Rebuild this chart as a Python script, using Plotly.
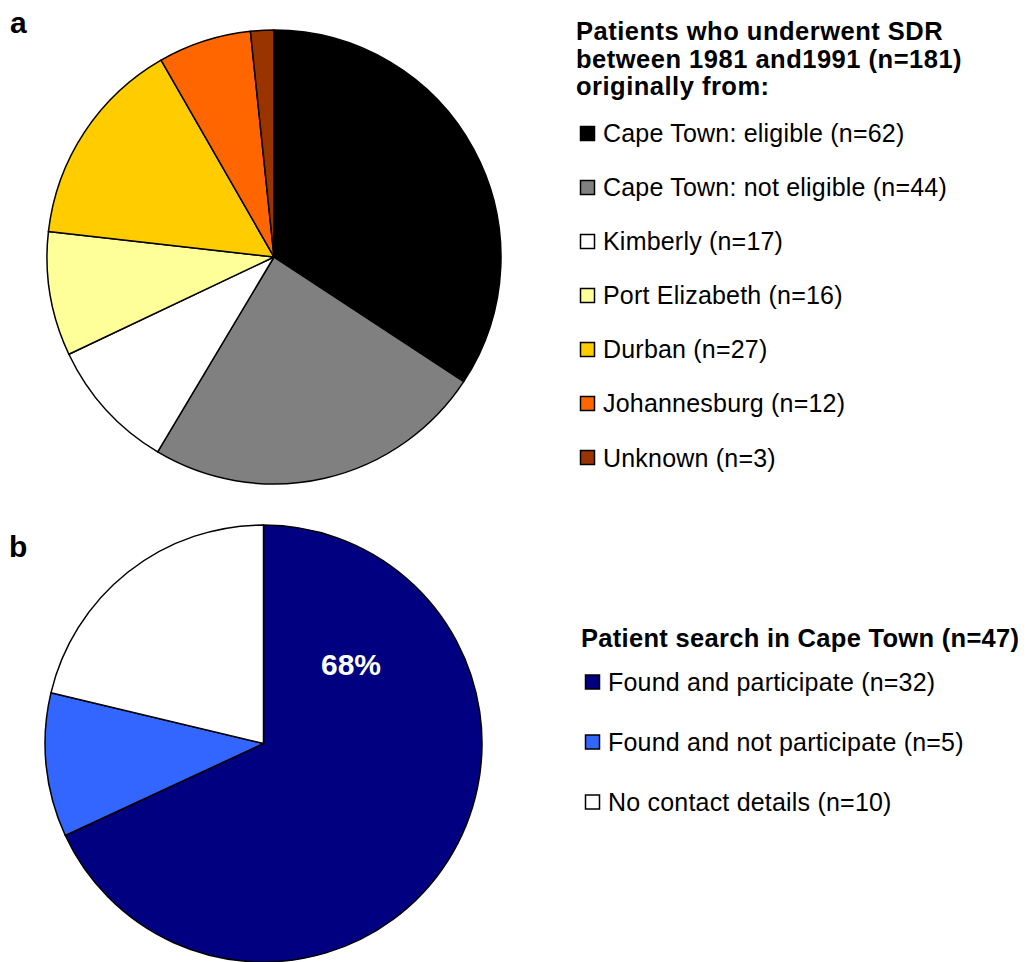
import plotly.graph_objects as go

# ---- data ----
origin_labels = ["Cape Town: eligible", "Cape Town: not eligible", "Kimberly",
                 "Port Elizabeth", "Durban", "Johannesburg", "Unknown"]
origin_counts = [62, 44, 17, 16, 27, 12, 3]
origin_colors = ["#000000", "#808080", "#FFFFFF", "#FFFF99", "#FFCC00", "#FF6600", "#993300"]

search_labels = ["Found and participate", "Found and not participate", "No contact details"]
search_counts = [32, 5, 10]
search_colors = ["#000080", "#3366FF", "#FFFFFF"]

title_a = ["Patients who underwent SDR", "between 1981 and1991 (n=181)", "originally from:"]
title_b = "Patient search in Cape Town (n=47)"

# page is 1031x962; the html body keeps its default 8px margin
OX, OY = 8, 8
W, H = 1031 - OX, 962 - OY
FONT = "Liberation Sans, Arial, sans-serif"


def fx(x):
    return (x - OX) / W


def fy(y):
    return 1 - (y - OY) / H


def spaced(t, ls):
    return '<span style="letter-spacing:%.2fpx">%s</span>' % (ls, t)


fig = go.Figure()

fig.add_trace(go.Pie(
    labels=origin_labels, values=origin_counts, sort=False, direction="clockwise",
    rotation=0, marker=dict(colors=origin_colors, line=dict(color="#000000", width=1.5)),
    textinfo="none", hoverinfo="label+value", showlegend=False,
    domain=dict(x=[fx(47), fx(501)], y=[fy(484), fy(30)]),
))

fig.add_trace(go.Pie(
    labels=search_labels, values=search_counts, sort=False, direction="clockwise",
    rotation=0, marker=dict(colors=search_colors, line=dict(color="#000000", width=1.5)),
    textinfo="none", hoverinfo="label+value", showlegend=False,
    domain=dict(x=[fx(43), fx(484)], y=[0, fy(525)]),
))

annotations = []
shapes = []

# panel letters
for letter, (lx, ly) in zip(["a", "b"], [(18, 22), (18, 546)]):
    annotations.append(dict(text="<b>%s</b>" % letter, x=fx(lx), y=fy(ly), xref="paper", yref="paper",
                            xanchor="center", yanchor="middle", showarrow=False,
                            font=dict(family=FONT, size=30, color="#000000")))

# legend a title (one annotation per line for tight line spacing)
for i, t in enumerate(title_a):
    annotations.append(dict(text=spaced("<b>%s</b>" % t, 0.5),
                            x=fx(574), y=fy(31 + i * 27.5), xref="paper", yref="paper",
                            xanchor="left", yanchor="middle", showarrow=False,
                            font=dict(family=FONT, size=25.5, color="#000000")))

# legend a items
for i, (lab, n, col) in enumerate(zip(origin_labels, origin_counts, origin_colors)):
    cy = 133.5 + i * 54
    shapes.append(dict(type="rect", xref="paper", yref="paper",
                       x0=fx(580.5), x1=fx(594.5), y0=fy(cy + 7), y1=fy(cy - 7),
                       fillcolor=col, line=dict(color="#000000", width=1.5)))
    annotations.append(dict(text=spaced("%s (n=%d)" % (lab, n), 0.2), x=fx(601), y=fy(cy),
                            xref="paper", yref="paper", xanchor="left", yanchor="middle",
                            showarrow=False, font=dict(family=FONT, size=25, color="#000000")))

# legend b title
annotations.append(dict(text=spaced("<b>%s</b>" % title_b, 0.3), x=fx(579), y=fy(638),
                        xref="paper", yref="paper", xanchor="left", yanchor="middle",
                        showarrow=False, font=dict(family=FONT, size=25.5, color="#000000")))

for i, (lab, n, col) in enumerate(zip(search_labels, search_counts, search_colors)):
    cy = 682 + i * 60
    shapes.append(dict(type="rect", xref="paper", yref="paper",
                       x0=fx(585.5), x1=fx(599.5), y0=fy(cy + 7), y1=fy(cy - 7),
                       fillcolor=col, line=dict(color="#000000", width=1.5)))
    annotations.append(dict(text=spaced("%s (n=%d)" % (lab, n), 0.2), x=fx(606), y=fy(cy),
                            xref="paper", yref="paper", xanchor="left", yanchor="middle",
                            showarrow=False, font=dict(family=FONT, size=25, color="#000000")))

# percentage label in the first slice of pie b
pct = round(100 * search_counts[0] / sum(search_counts))
annotations.append(dict(text="<b>%d%%</b>" % pct, x=fx(351), y=fy(664),
                        xref="paper", yref="paper", xanchor="center", yanchor="middle",
                        showarrow=False, font=dict(family=FONT, size=30, color="#FFFFFF")))

fig.update_layout(
    width=W, height=H, autosize=False,
    margin=dict(l=0, r=0, t=0, b=0),
    paper_bgcolor="#FFFFFF", plot_bgcolor="#FFFFFF",
    annotations=annotations, shapes=shapes,
)

fig.write_html("out.html")
